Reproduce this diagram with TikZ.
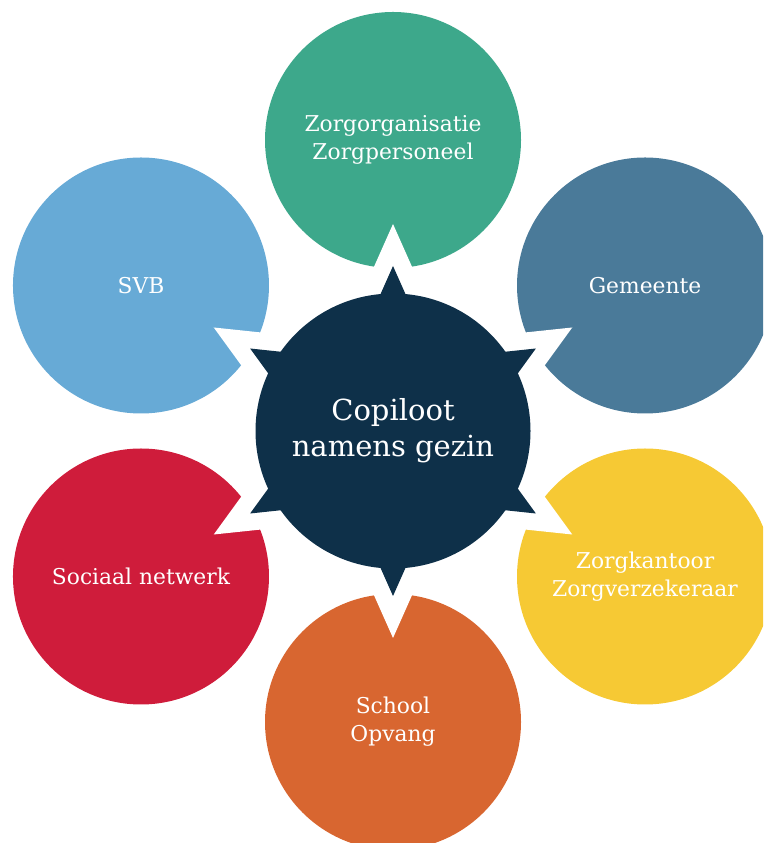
\documentclass[tikz,border=0pt]{standalone}
\usepackage{fontspec}
\setmainfont{DejaVu Serif}
\definecolor{cgreen}{HTML}{3DA88B}
\definecolor{cgem}{HTML}{4A7A99}
\definecolor{csvb}{HTML}{67AAD6}
\definecolor{cred}{HTML}{CF1C3B}
\definecolor{corange}{HTML}{D86630}
\definecolor{cyellow}{HTML}{F6C934}
\definecolor{cnavy}{HTML}{0E3049}
\begin{document}
\begin{tikzpicture}[x=1pt,y=1pt,
  outer/.style={circle, minimum size=256pt, inner sep=0pt, text=white, align=center,
    font=\fontsize{21.8}{28}\selectfont},
  core/.style={circle, minimum size=275pt, inner sep=0pt, fill=cnavy, text=white, align=center,
    font=\fontsize{29}{36}\selectfont},
  notch/.style={fill=white},
  spike/.style={fill=cnavy}]
\useasboundingbox (0,0) rectangle (763,843);
\clip (0,0) rectangle (763,843);
\coordinate (C) at (393,412);
% outer circles
\node[outer, fill=cgreen]  (zorg)   at ([shift={(90:291)}]C)  {Zorgorganisatie\\Zorgpersoneel};
\node[outer, fill=cgem]    (gem)    at ([shift={(30:291)}]C)  {Gemeente};
\node[outer, fill=cyellow] (kant)   at ([shift={(-30:291)}]C) {Zorgkantoor\\Zorgverzekeraar};
\node[outer, fill=corange] (school) at ([shift={(-90:291)}]C) {School\\Opvang};
\node[outer, fill=cred]    (soc)    at ([shift={(210:291)}]C) {Sociaal netwerk};
\node[outer, fill=csvb]    (svb)    at ([shift={(150:291)}]C) {SVB};
% white notches
\foreach \a in {90,30,-30,-90,210,150}
  \fill[notch, shift={(C)}, rotate=\a] (207,0) -- (100,47.6) -- (100,-47.6) -- cycle;
% spikes
\foreach \a in {90,30,-30,-90,210,150}
  \fill[spike, shift={(C)}, rotate=\a] (165,0) -- (120,20) -- (120,-20) -- cycle;
% centre
\node[core] (copiloot) at (C) {Copiloot\\namens gezin};
\end{tikzpicture}
\end{document}
